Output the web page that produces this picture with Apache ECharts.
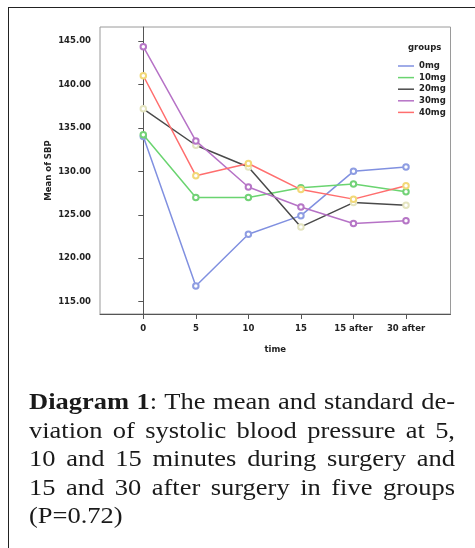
<!DOCTYPE html>
<html>
<head>
<meta charset="utf-8">
<script src="https://cdn.jsdelivr.net/npm/echarts@6/dist/echarts.min.js"></script>
<style>
  html, body { margin: 0; padding: 0; background: #fff; }
  #wrap { position: relative; width: 475px; height: 548px; overflow: hidden; }
  #frame { position: absolute; left: 8px; top: 7px; width: 500px; height: 600px;
           border-left: 1.5px solid #222; border-top: 1.5px solid #222; }
  #chart { position: absolute; left: 0; top: 0; width: 475px; height: 548px; }
  #caption { position: absolute; left: 29px; top: 387px; width: 378px;
             transform: scaleX(1.127); transform-origin: 0 0;
             font-family: "Liberation Serif", "Times New Roman", serif;
             font-size: 23.5px; line-height: 28.5px; color: #1a1a1a; text-align: justify; }
</style>
</head>
<body>
<div id="wrap">
  <div id="frame"></div>
  <div id="chart"></div>
  <div id="caption"><b>Diagram 1</b>: The mean and standard de-viation of systolic blood pressure at 5, 10 and 15 minutes during surgery and 15 and 30 after surgery in five groups (P=0.72)</div>
</div>
<script>
// ---- data ----
const categories = ['0', '5', '10', '15', '15 after', '30 after'];
const yTicks = [115, 120, 125, 130, 135, 140, 145];
const groupNames = ['0mg', '10mg', '20mg', '30mg', '40mg'];
const g0mg  = [134.0, 116.8, 122.75, 124.9, 130.0, 130.5];
const g10mg = [134.2, 127.0, 127.0, 128.1, 128.55, 127.65];
const g20mg = [137.2, 133.0, 130.5, 123.6, 126.4, 126.1];
const g30mg = [144.35, 133.5, 128.2, 125.9, 124.0, 124.3];
const g40mg = [141.0, 129.5, 130.9, 127.9, 126.8, 128.35];
const groupValues = [g0mg, g10mg, g20mg, g30mg, g40mg];

const lineColors = ['#8090e0', '#6ad470', '#4a4a4a', '#b672c6', '#ff6e6e'];
const markColors = ['#8e9de2', '#72d277', '#e4e4c0', '#b676c6', '#f2d878'];

const chart = echarts.init(document.getElementById('chart'), null, { renderer: 'canvas' });
const labelFont = { fontFamily: 'DejaVu Sans', fontWeight: 'bold', fontSize: 8.5, color: '#222' };

const series = groupNames.map((name, i) => ({
  name: name,
  type: 'line',
  data: groupValues[i].map((v, j) => ({
    value: [j, v],
    itemStyle: { color: markColors[i], borderColor: markColors[i], borderWidth: 1.2 }
  })),
  symbol: 'emptyCircle',
  symbolSize: 5.5,
  lineStyle: { color: lineColors[i], width: 1.5 },
  itemStyle: { color: lineColors[i] },
  emphasis: { disabled: true },
  z: 3 + i
}));

chart.setOption({
  animation: false,
  title: {
    text: 'groups', left: 403, top: 38,
    textStyle: { fontFamily: 'DejaVu Sans', fontWeight: 'bold', fontSize: 8.5, color: '#222' }
  },
  legend: {
    orient: 'vertical', left: 393, top: 56,
    icon: 'rect', itemWidth: 16, itemHeight: 1.5, itemGap: 1.6,
    textStyle: Object.assign({}, labelFont, { lineHeight: 10 }),
    data: groupNames,
    selectedMode: false
  },
  grid: {
    left: 100, top: 27, right: 24.5, bottom: 234,
    show: true, borderColor: '#9a9a9a', borderWidth: 1, backgroundColor: '#fff'
  },
  xAxis: {
    type: 'value', min: -0.824, max: 5.847,
    name: 'time', nameLocation: 'middle', nameGap: 31, nameMoveOverlap: false,
    nameTextStyle: labelFont,
    axisLine: { show: true, lineStyle: { color: '#555', width: 1 } },
    axisTick: { show: true, length: 5, customValues: categories.map((c, i) => i), lineStyle: { color: '#555' } },
    axisLabel: Object.assign({ margin: 10, customValues: categories.map((c, i) => i),
      formatter: v => categories[Math.round(v)] }, labelFont),
    splitLine: { show: false }
  },
  yAxis: {
    type: 'value', min: 113.58, max: 146.61,
    name: 'Mean of SBP', nameLocation: 'middle', nameGap: 47, nameRotate: 90, nameMoveOverlap: false,
    nameTextStyle: labelFont,
    axisLine: { show: true, lineStyle: { color: '#555', width: 1 } },
    axisTick: { show: true, length: 5, customValues: yTicks, lineStyle: { color: '#555' } },
    axisLabel: Object.assign({ margin: 9, customValues: yTicks,
      formatter: v => v.toFixed(2) }, labelFont),
    splitLine: { show: false }
  },
  series: series
});
</script>
</body>
</html>
